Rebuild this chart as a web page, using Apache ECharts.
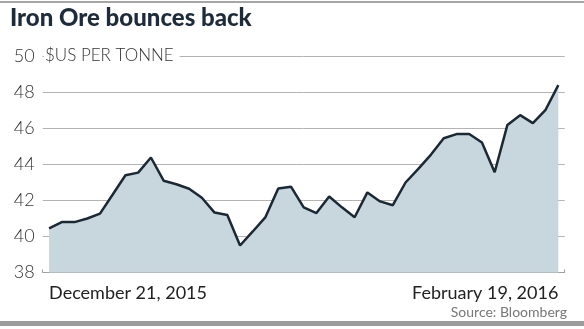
<!DOCTYPE html>
<html>
<head>
<meta charset="utf-8">
<script src="https://cdn.jsdelivr.net/npm/echarts@6/dist/echarts.min.js"></script>
<style>
html,body{margin:0;padding:0;background:#fff;}
#chart{width:584px;height:329px;}
</style>
</head>
<body>
<div id="chart"></div>
<script>
// Trading days (categories)
const dates = [
  "December 21, 2015","December 22, 2015","December 23, 2015","December 24, 2015",
  "December 28, 2015","December 29, 2015","December 30, 2015","December 31, 2015",
  "January 4, 2016","January 5, 2016","January 6, 2016","January 7, 2016","January 8, 2016",
  "January 11, 2016","January 12, 2016","January 13, 2016","January 14, 2016","January 15, 2016",
  "January 19, 2016","January 20, 2016","January 21, 2016","January 22, 2016",
  "January 25, 2016","January 26, 2016","January 27, 2016","January 28, 2016","January 29, 2016",
  "February 1, 2016","February 2, 2016","February 3, 2016","February 4, 2016","February 5, 2016",
  "February 8, 2016","February 9, 2016","February 10, 2016","February 11, 2016","February 12, 2016",
  "February 16, 2016","February 17, 2016","February 18, 2016","February 19, 2016"
];
// Iron ore price, $US per tonne
const prices = [
  40.45, 40.8, 40.8, 41.0, 41.27, 42.33, 43.4, 43.55, 44.39, 43.1,
  42.9, 42.65, 42.15, 41.33, 41.2, 39.5, 40.28, 41.08, 42.67, 42.77,
  41.62, 41.3, 42.22, 41.62, 41.07, 42.45, 41.95, 41.74, 43.0, 43.76,
  44.55, 45.46, 45.69, 45.69, 45.22, 43.57, 46.2, 46.74, 46.3, 47.04,
  48.41
];
const yTicks = [38, 40, 42, 44, 46, 48, 50];
const titleText = "Iron Ore bounces back";
const unitText = "$US PER TONNE";
const sourceText = "Source: Bloomberg";

const chart = echarts.init(document.getElementById('chart'), null, {renderer: 'canvas'});
const lastIdx = dates.length - 1;
chart.setOption({
  animation: false,
  backgroundColor: '#fff',
  grid: {left: 42.7, right: 19.3, top: 56.5, bottom: 56.5, containLabel: false},
  xAxis: {
    type: 'category',
    data: dates,
    boundaryGap: true,
    axisLine: {show: true, lineStyle: {color: '#a0a0a0', width: 1}},
    axisTick: {show: true, inside: true, length: 3, interval: 0, lineStyle: {color: '#a0a0a0'}},
    axisLabel: {
      interval: function (i) { return i === 0 || i === lastIdx; },
      alignMinLabel: 'left',
      alignMaxLabel: 'right',
      margin: 12,
      fontFamily: 'Lato',
      fontSize: 18,
      color: '#222'
    },
    splitLine: {show: false}
  },
  yAxis: {
    type: 'value',
    min: yTicks[0],
    max: yTicks[yTicks.length - 1],
    interval: 2,
    axisLine: {show: false},
    axisTick: {show: false},
    axisLabel: {
      margin: 8,
      fontFamily: 'Lato',
      fontWeight: 300,
      fontSize: 18,
      color: '#333'
    },
    splitLine: {
      show: true,
      lineStyle: {color: '#b4b4b4', width: 1}
    }
  },
  series: [{
    type: 'line',
    data: prices,
    symbol: 'none',
    lineStyle: {color: '#1b2935', width: 2.5},
    areaStyle: {color: '#c8d7de', opacity: 1},
    z: 3
  }],
  graphic: [
    {type: 'rect', left: 0, top: 1, shape: {width: 584, height: 2}, style: {fill: '#a6a6a6'}},
    {type: 'rect', left: 0, top: 321, shape: {width: 584, height: 5}, style: {fill: '#9c9c9c'}},
    {type: 'text', left: 10, top: 6,
      style: {text: titleText, fontFamily: 'Lato', fontWeight: 900, fontSize: 24, fill: '#1d2b3a'}},
    {type: 'text', left: 44, top: 47, z: 10,
      style: {text: unitText, fontFamily: 'Lato', fontWeight: 300, fontSize: 17, fill: '#333',
        backgroundColor: '#fff', padding: [0, 6, 0, 1]}},
    {type: 'text', right: 17, top: 305,
      style: {text: sourceText, fontFamily: 'Lato', fontSize: 14, fill: '#777'}}
  ]
});
</script>
</body>
</html>
